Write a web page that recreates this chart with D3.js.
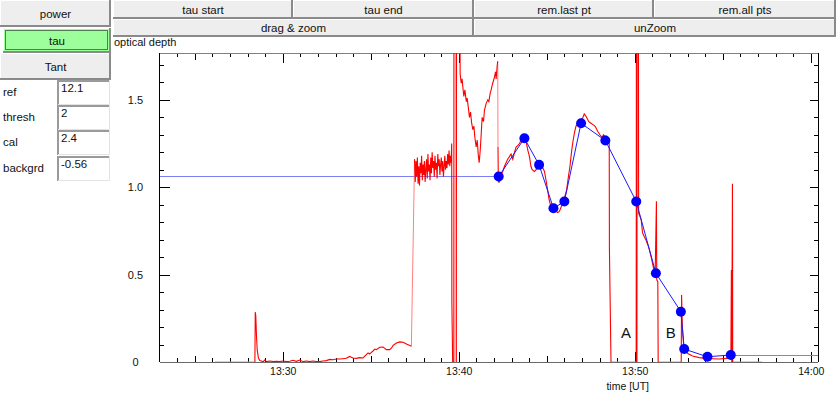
<!DOCTYPE html>
<html><head><meta charset="utf-8">
<script src="https://cdn.jsdelivr.net/npm/d3@7"></script>
<style>
body{margin:0;background:#fff;}
svg{display:block;font-family:"Liberation Sans",Arial,sans-serif;}
</style>
</head><body>
<svg id="c" width="836" height="393"></svg>
<script>
// ---------- DATA ----------
const topButtonsRow1 = ["tau start", "tau end", "rem.last pt", "rem.all pts"];
const topButtonsRow2 = ["drag & zoom", "unZoom"];
const sideButtons = ["power", "tau", "Tant"];
const paramNames = ["ref", "thresh", "cal", "backgrd"];
const paramValues = ["12.1", "2", "2.4", "-0.56"];

const yAxisTitle = "optical depth";
const xAxisTitle = "time [UT]";
// time = minutes after 13:00
const xTickTimes = [30, 40, 50, 60];
const xTickLabels = ["13:30", "13:40", "13:50", "14:00"];
const yTickValues = [0, 0.5, 1.0, 1.5];
const yTickLabels = ["0", "0.5", "1.0", "1.5"];

// selected tau points (blue)
const pointTimes = [42.27, 43.73, 44.565, 45.38, 46.00, 46.95, 48.33, 50.085, 51.20, 52.62, 52.81, 54.13, 55.455];
const pointTau   = [1.061, 1.280, 1.128, 0.880, 0.918, 1.366, 1.267, 0.918, 0.508, 0.288, 0.074, 0.030, 0.040];

// measured optical depth trace (red), in pieces; pink joins between them
const traceLead = [26.15, 0];
const traceTail = [57.23, 0];
const tracePiece1 = [
 [28.42,0.0],[28.44,0.286],[28.47,0.265],[28.51,0.147],[28.55,0.071],[28.62,0.023],[28.70,0.008],[28.89,0.002],
 [28.98,0.011],[29.08,0.002],[29.27,0.006],[29.46,0.002],[29.64,0.004],[29.83,0.002],[30.02,0.006],[30.21,0.002],
 [30.40,0.004],[30.59,0.010],[30.78,0.004],[30.97,0.011],[31.16,0.002],[31.34,0.006],[31.53,0.002],[31.72,0.006],
 [31.91,0.002],[32.10,0.002],[32.29,0.006],[32.48,0.008],[32.67,0.015],[32.86,0.013],[33.05,0.017],[33.24,0.017],
 [33.42,0.019],[33.61,0.021],[33.80,0.032],[33.90,0.027],[33.99,0.023],[34.18,0.021],[34.37,0.025],[34.56,0.023],
 [34.75,0.042],[34.85,0.052],[34.94,0.046],[35.04,0.055],[35.13,0.063],[35.23,0.074],[35.32,0.071],[35.51,0.084],
 [35.70,0.086],[35.80,0.078],[35.89,0.071],[36.08,0.071],[36.18,0.080],[36.27,0.095],[36.46,0.109],[36.65,0.115],
 [36.84,0.113],[37.03,0.103],[37.22,0.094],[37.31,0.090]
];
const tracePiece2 = [
 [37.49,1.16],[37.53,1.03],[37.57,1.15],[37.61,1.06],[37.65,1.17],[37.69,1.02],[37.73,1.12],[37.77,1.01],
 [37.81,1.14],[37.85,1.08],[37.89,1.18],[37.93,1.04],[37.97,1.13],[38.01,1.07],[38.05,1.15],[38.09,1.03],
 [38.13,1.10],[38.17,1.16],[38.21,1.05],[38.25,1.19],[38.29,1.09],[38.33,1.13],[38.37,1.04],[38.41,1.17],
 [38.45,1.08],[38.49,1.20],[38.53,1.11],[38.57,1.15],[38.61,1.06],[38.65,1.18],[38.69,1.10],[38.73,1.14],
 [38.77,1.05],[38.81,1.19],[38.85,1.12],[38.89,1.16],[38.93,1.07],[38.97,1.13],[39.01,1.17],[39.05,1.09],
 [39.09,1.15],[39.13,1.06],[39.17,1.12],[39.21,1.18],[39.25,1.10],[39.29,1.15],[39.33,1.11],[39.37,1.19],
 [39.41,1.13],[39.45,1.21],[39.49,1.12],[39.53,1.18],[39.57,1.14],
 [39.60,1.25],[39.61,0.34],[39.72,-0.5],[39.73,3.0],[39.85,3.0],[39.86,-0.5],[39.88,3.0],[40.04,3.0],
 [40.08,1.65],[40.14,1.595],[40.19,1.62],[40.23,1.576],[40.29,1.52],[40.35,1.557],[40.43,1.49],[40.48,1.51],
 [40.54,1.46],[40.61,1.40],[40.67,1.43],[40.73,1.37],[40.80,1.33],[40.86,1.35],[40.91,1.29],[40.99,1.23],
 [41.05,1.27],[41.11,1.185],[41.16,1.14],[41.22,1.21],[41.28,1.31],[41.33,1.40],[41.41,1.376],[41.46,1.44],
 [41.56,1.48],[41.65,1.50],[41.71,1.49],[41.79,1.54],[41.84,1.557],[41.93,1.595],[42.03,1.63],[42.09,1.66],
 [42.125,1.62],[42.18,1.69],[42.215,1.72]
];
const tracePiece3 = [
 [42.23,1.23],[42.25,1.03],[42.32,1.03],[42.40,1.07],[42.50,1.09],[42.60,1.12],[42.69,1.14],[42.78,1.16],
 [42.88,1.175],[42.97,1.19],[43.07,1.16],[43.17,1.20],[43.26,1.23],[43.36,1.24],[43.45,1.25],[43.55,1.27],
 [43.64,1.28],[43.74,1.27],[43.83,1.26],[43.93,1.21],[44.02,1.175],[44.10,1.12],[44.17,1.10],[44.30,1.09],
 [44.40,1.10],[44.49,1.12],[44.59,1.13],[44.68,1.13],[44.78,1.11],[44.87,1.09],[44.96,1.04],[45.05,0.985],
 [45.13,0.93],[45.21,0.90],[45.30,0.89],[45.43,0.88],[45.55,0.86],[45.62,0.855],[45.70,0.86],[45.75,0.87],
 [45.87,0.90],[46.00,0.937],[46.13,0.985],[46.23,1.06],[46.32,1.12],[46.40,1.195],[46.47,1.25],[46.57,1.31],
 [46.66,1.35],[46.75,1.36],[46.85,1.366],[46.95,1.39],[47.04,1.395],[47.13,1.42],[47.20,1.41],[47.26,1.40],
 [47.38,1.376],[47.45,1.37],[47.51,1.366],[47.65,1.357],[47.76,1.347],[47.89,1.32],[48.02,1.30],[48.10,1.29],
 [48.17,1.29],[48.22,1.30],[48.27,1.294],[48.40,1.29],[48.48,1.26],[48.55,1.25],[48.56,0.65],[48.65,0.0]
];
const tracePiece4 = [
 [50.08,0.0],[50.10,3.0],[50.12,-0.5],[50.14,3.0],[50.20,3.0],[50.22,0.85],[50.31,0.83],[50.37,0.81],
 [50.44,0.74],[50.53,0.72],[50.63,0.70],[50.70,0.68],[50.78,0.66],[50.86,0.63],[50.97,0.584],[51.05,0.545],
 [51.16,0.508],[51.23,0.92],[51.25,0.47],[51.31,0.46],[51.33,0.0]
];
const tracePiece5 = [
 [52.64,0.0],[52.66,0.384],[52.70,0.21],[52.77,0.107],[52.865,0.069],[52.99,0.05],[53.28,0.034],[53.66,0.025],
 [54.04,0.021],[54.41,0.019],[54.79,0.017],[55.17,0.021],[55.46,0.025],[55.49,0.527],[55.51,0.0],[55.53,0.527],
 [55.55,1.02],[55.565,0.0]
];
const markLabels = ["A", "B"];
const markTimes = [49.5, 52.05];
const markTau = [0.14, 0.14];

// ---------- LAYOUT ----------
const svg = d3.select("#c");
const plot = {left: 159.5, right: 818, top: 53, bottom: 362};
const x = d3.scaleLinear().domain([23, 60.41]).range([plot.left, plot.right]);
const y = d3.scaleLinear().domain([0, 1.768]).range([plot.bottom, plot.top]);

// ---------- UI WIDGETS ----------
function button(x0, y0, w, h, label, fill, focused) {
  const g = svg.append("g");
  g.append("rect").attr("x", x0).attr("y", y0).attr("width", w).attr("height", h).attr("fill", fill);
  g.append("path").attr("d", `M${x0+0.5},${y0+h}V${y0+0.5}H${x0+w}`).attr("stroke", "#ffffff").attr("fill", "none");
  g.append("path").attr("d", `M${x0},${y0+h-1}H${x0+w-1}V${y0}`).attr("stroke", "#8a8a8a").attr("stroke-width", 2).attr("fill", "none");
  if (focused) {
    g.append("rect").attr("x", x0+2.5).attr("y", y0+2.5).attr("width", w-6).attr("height", h-6)
      .attr("fill", "none").attr("stroke", "#000").attr("stroke-dasharray", "1,1");
  }
  g.append("text").attr("x", x0 + w/2).attr("y", y0 + h/2).attr("dy", "0.36em")
    .attr("text-anchor", "middle").attr("font-size", 11.5).attr("fill", "#111").text(label);
}
button(0, 0, 111, 27, sideButtons[0], "#eeeeee", false);
button(3, 28, 108, 25, sideButtons[1], "#9cff9c", true);
button(0, 53, 111, 27, sideButtons[2], "#eeeeee", false);

const row1X = [113, 293, 474, 654, 836];
topButtonsRow1.forEach((b, i) => button(row1X[i], 0, row1X[i+1]-row1X[i], 19, b, "#eeeeee", false));
const row2X = [113, 474, 836];
topButtonsRow2.forEach((b, i) => button(row2X[i], 19, row2X[i+1]-row2X[i], 18, b, "#eeeeee", false));

const boxTop = [80, 105, 130, 156];
paramNames.forEach((n, i) => {
  const t = boxTop[i];
  svg.append("text").attr("x", 3).attr("y", t + 16).attr("font-size", 11.5).attr("fill", "#111").text(n);
  svg.append("rect").attr("x", 57).attr("y", t).attr("width", 53).attr("height", 25).attr("fill", "#fff");
  svg.append("path").attr("d", `M${57.5+0.5},${t+25}V${t+1}H110`).attr("stroke", "#9a9a9a").attr("stroke-width", 2).attr("fill", "none");
  svg.append("path").attr("d", `M58,${t+24.5}H109.5V${t}`).attr("stroke", "#e3e3e3").attr("fill", "none");
  svg.append("text").attr("x", 61).attr("y", t + 12).attr("font-size", 11.5).attr("fill", "#111").text(paramValues[i]);
});

// ---------- CHART ----------
svg.append("text").attr("x", 114).attr("y", 46).attr("font-size", 11).attr("fill", "#111").text(yAxisTitle);

svg.append("defs").append("clipPath").attr("id", "clip").append("rect")
  .attr("x", plot.left).attr("y", plot.top).attr("width", plot.right - plot.left).attr("height", plot.bottom - plot.top);

const minutes = d3.range(24, 61);
const minorX = minutes.filter(d => d % 5 !== 0);
const midX = minutes.filter(d => d % 5 === 0 && d % 10 !== 0);
const majorX = minutes.filter(d => d % 10 === 0);
const tenths = d3.range(1, 18).map(i => i / 10);
const minorY = tenths.filter(d => Math.round(d * 10) % 5 !== 0);
const majorY = [0.5, 1.0, 1.5];

function ticks(axisFn, scale, vals, len, tx, ty) {
  const g = svg.append("g").attr("transform", `translate(${tx},${ty})`)
    .call(axisFn(scale).tickValues(vals).tickSize(-len).tickFormat(""));
  g.select(".domain").remove();
  g.selectAll("line").attr("stroke", "#000").attr("shape-rendering", "crispEdges");
}
ticks(d3.axisBottom, x, minorX, 4, 0, plot.bottom);
ticks(d3.axisBottom, x, midX, 6.5, 0, plot.bottom);
ticks(d3.axisBottom, x, majorX, 10, 0, plot.bottom);
ticks(d3.axisTop, x, minorX, 4, 0, plot.top);
ticks(d3.axisTop, x, midX, 6.5, 0, plot.top);
ticks(d3.axisTop, x, majorX, 10, 0, plot.top);
ticks(d3.axisLeft, y, minorY, 4.7, plot.left, 0);
ticks(d3.axisLeft, y, majorY, 10.5, plot.left, 0);
ticks(d3.axisRight, y, minorY, 4, plot.right, 0);
ticks(d3.axisRight, y, majorY, 8, plot.right, 0);

// axis lines
svg.append("line").attr("x1", plot.left).attr("x2", plot.right).attr("y1", plot.top).attr("y2", plot.top)
  .attr("stroke", "#808080").attr("shape-rendering", "crispEdges");
svg.append("line").attr("x1", plot.left).attr("x2", plot.right).attr("y1", plot.bottom).attr("y2", plot.bottom)
  .attr("stroke", "#6a6a6a").attr("shape-rendering", "crispEdges");
svg.append("line").attr("x1", plot.left).attr("x2", plot.left).attr("y1", plot.top).attr("y2", plot.bottom)
  .attr("stroke", "#000").attr("shape-rendering", "crispEdges");
svg.append("line").attr("x1", plot.right).attr("x2", plot.right).attr("y1", plot.top).attr("y2", plot.bottom)
  .attr("stroke", "#000").attr("shape-rendering", "crispEdges");

// tick labels
const xl = svg.append("g").attr("transform", `translate(0,${plot.bottom})`)
  .call(d3.axisBottom(x).tickValues(xTickTimes).tickSize(0).tickPadding(6).tickFormat((d, i) => xTickLabels[i]));
xl.select(".domain").remove();
xl.selectAll("text").attr("font-size", 10.5).attr("font-family", "Liberation Sans, Arial, sans-serif").attr("fill", "#111");
const yl = svg.append("g").attr("transform", `translate(${plot.left},0)`)
  .call(d3.axisLeft(y).tickValues(yTickValues).tickSize(0).tickPadding(0).tickFormat((d, i) => yTickLabels[i]));
yl.select(".domain").remove();
yl.selectAll("text").attr("x", -24).attr("text-anchor", "middle").attr("font-size", 11)
  .attr("font-family", "Liberation Sans, Arial, sans-serif").attr("fill", "#111");

svg.append("text").attr("x", x(49.6)).attr("y", 390).attr("text-anchor", "middle")
  .attr("font-size", 10.5).attr("fill", "#111").text(xAxisTitle);

const body = svg.append("g").attr("clip-path", "url(#clip)");
const line = d3.line().x(d => x(d[0])).y(d => y(d[1]));

// horizontal reference lines (before first and after last point)
const nP = pointTimes.length;
body.append("path").attr("d", line([[x.domain()[0], pointTau[0]], [pointTimes[0], pointTau[0]]]))
  .attr("stroke", "#7f7ff5").attr("fill", "none").attr("shape-rendering", "crispEdges");
body.append("path").attr("d", line([[pointTimes[nP-1], pointTau[nP-1]], [x.domain()[1], pointTau[nP-1]]]))
  .attr("stroke", "#7f7ff5").attr("fill", "none").attr("shape-rendering", "crispEdges");

// red trace pieces + pink joins
const pieces = [tracePiece1, tracePiece2, tracePiece3, tracePiece4, tracePiece5];
const joins = [[traceLead, tracePiece1[0]]];
for (let i = 0; i < pieces.length - 1; i++) joins.push([pieces[i][pieces[i].length-1], pieces[i+1][0]]);
joins.push([tracePiece5[tracePiece5.length-1], traceTail]);
joins.forEach(j => body.append("path").attr("d", line(j)).attr("stroke", "#ff8080").attr("fill", "none"));
pieces.forEach(p => body.append("path").attr("d", line(p)).attr("stroke", "#ff0000").attr("fill", "none")
  .attr("stroke-width", 1.1));

// blue point line & dots
const pts = pointTimes.map((t, i) => [t, pointTau[i]]);
body.append("path").attr("d", line(pts)).attr("stroke", "#1a1aff").attr("fill", "none");
body.selectAll("circle.pt").data(pts).enter().append("circle").attr("class", "pt")
  .attr("cx", d => x(d[0])).attr("cy", d => y(d[1])).attr("r", 5).attr("fill", "#0000ff");

// A / B marks
markLabels.forEach((m, i) => {
  svg.append("text").attr("x", x(markTimes[i])).attr("y", y(markTau[i])).attr("text-anchor", "middle")
    .attr("font-size", 15).attr("fill", "#111").text(m);
});
</script>
</body></html>
